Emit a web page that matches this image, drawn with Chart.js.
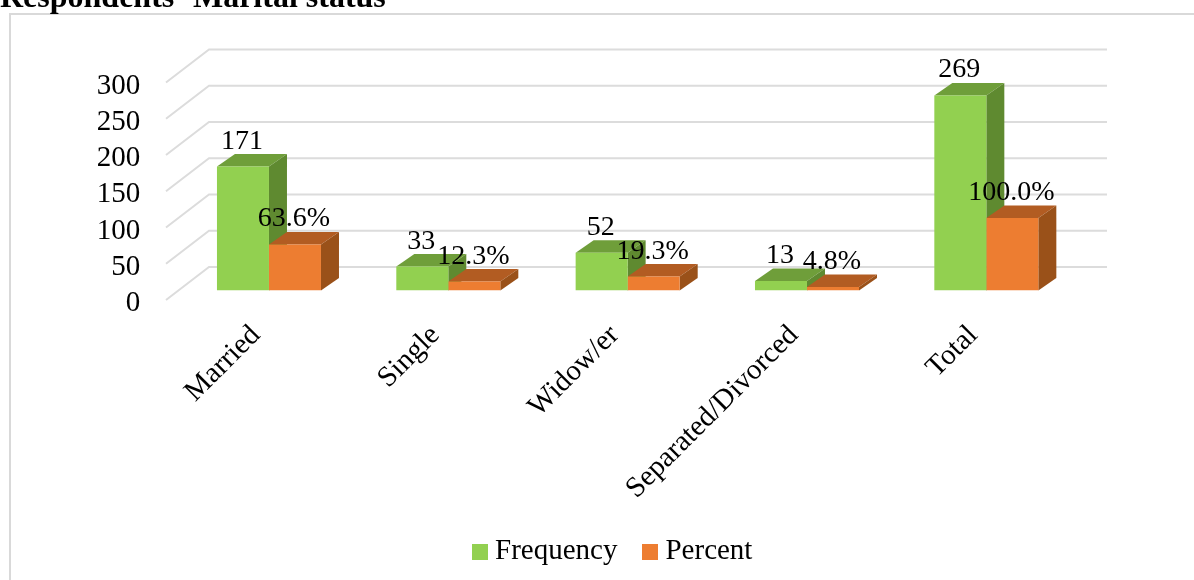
<!DOCTYPE html>
<html>
<head>
<meta charset="utf-8">
<style>
html,body{margin:0;padding:0;background:#fff;}
#wrap{position:relative;width:1194px;height:580px;overflow:hidden;}
canvas{display:block;}
</style>
<script src="https://cdn.jsdelivr.net/npm/chart.js@4"></script>
</head>
<body>
<div id="wrap"><canvas id="chart" width="1194" height="580"></canvas></div>
<script>
const categories = ['Married', 'Single', 'Widow/er', 'Separated/Divorced', 'Total'];
const frequency = [171, 33, 52, 13, 269];
const percent = [63.6, 12.3, 19.3, 4.8, 100.0];
const titleText = 'Respondents\u2019 Marital status';

const SERIF = '"Liberation Serif", "Times New Roman", serif';
const GRID = '#dcdcdc';
const GREEN = {front: '#92D050', top: '#6F9E3A', side: '#5F8A30'};
const ORANGE = {front: '#ED7D31', top: '#B25C22', side: '#9A5119'};
const BAR_DEPTH = {x: 18, y: -12.5};
const LEGEND_CENTER = 616;

function face(ctx, pts, color) {
  ctx.fillStyle = color;
  ctx.beginPath();
  pts.forEach((p, i) => i ? ctx.lineTo(p[0], p[1]) : ctx.moveTo(p[0], p[1]));
  ctx.closePath();
  ctx.fill();
}

// Small square used as the legend marker.
function swatch(color) {
  const c = document.createElement('canvas');
  c.width = 16;
  c.height = 16;
  const g = c.getContext('2d');
  g.fillStyle = color;
  g.fillRect(0, 0, 16, 16);
  return c;
}

// Outer frame, heading and the receding walls of the 3D plot box.
const backdrop = {
  id: 'backdrop',
  afterLayout(chart) {
    const lg = chart.legend;
    const shift = LEGEND_CENTER - (lg.left + lg.right) / 2;
    lg.left += shift;
    lg.right += shift;
  },
  beforeDraw(chart) {
    const {ctx, scales: {y}} = chart;
    ctx.save();
    ctx.strokeStyle = '#d9d9d9';
    ctx.lineWidth = 2;
    ctx.beginPath();
    ctx.moveTo(10, 580);
    ctx.lineTo(10, 14);
    ctx.lineTo(1194, 14);
    ctx.stroke();

    ctx.fillStyle = '#000';
    ctx.font = 'bold 32px ' + SERIF;
    ctx.textAlign = 'left';
    ctx.textBaseline = 'alphabetic';
    ctx.fillText(titleText, 0, 7);

    ctx.strokeStyle = GRID;
    ctx.lineWidth = 2;
    y.ticks.forEach(t => {
      const py = y.getPixelForValue(t.value);
      ctx.beginPath();
      ctx.moveTo(166, py + 9.5);
      ctx.lineTo(209, py - 23.5);
      ctx.lineTo(1107, py - 23.5);
      ctx.stroke();
    });
    ctx.restore();
  }
};

// Top and side faces of each bar, placed from the bar elements themselves.
const bar3d = {
  id: 'bar3d',
  beforeDatasetsDraw(chart) {
    const {ctx} = chart;
    const palette = [GREEN, ORANGE];
    const dx = BAR_DEPTH.x, dy = BAR_DEPTH.y;
    ctx.save();
    categories.forEach((_, i) => {
      palette.forEach((col, d) => {
        const el = chart.getDatasetMeta(d).data[i];
        const l = el.x - el.width / 2, r = el.x + el.width / 2, t = el.y, b = el.base;
        face(ctx, [[l, t], [r, t], [r + dx, t + dy], [l + dx, t + dy]], col.top);
        face(ctx, [[r, t], [r + dx, t + dy], [r + dx, b + dy], [r, b]], col.side);
      });
    });
    ctx.restore();
  }
};

// Value captions above every bar.
const valueLabels = {
  id: 'valueLabels',
  afterDatasetsDraw(chart) {
    const {ctx} = chart;
    ctx.save();
    ctx.fillStyle = '#000';
    ctx.font = '28px ' + SERIF;
    ctx.textAlign = 'center';
    ctx.textBaseline = 'alphabetic';
    chart.data.datasets.forEach((ds, d) => {
      chart.getDatasetMeta(d).data.forEach((el, i) => {
        const text = d === 0 ? String(ds.data[i]) : ds.data[i].toFixed(1) + '%';
        ctx.fillText(text, el.x - 1, el.y - 18);
      });
    });
    ctx.restore();
  }
};

new Chart(document.getElementById('chart'), {
  type: 'bar',
  data: {
    labels: categories,
    datasets: [
      {label: 'Frequency', data: frequency, backgroundColor: GREEN.front, categoryPercentage: 0.58, barPercentage: 1},
      {label: 'Percent', data: percent, backgroundColor: ORANGE.front, categoryPercentage: 0.58, barPercentage: 1}
    ]
  },
  plugins: [backdrop, bar3d, valueLabels],
  options: {
    responsive: false,
    animation: false,
    layout: {padding: {left: 32, right: 118, top: 73, bottom: 4}},
    plugins: {
      tooltip: {enabled: false},
      title: {display: false},
      legend: {
        display: true,
        position: 'bottom',
        labels: {
          color: '#000',
          font: {family: SERIF, size: 29},
          usePointStyle: true,
          pointStyleWidth: 1,
          boxHeight: 16,
          padding: 32.5,
          generateLabels(chart) {
            return chart.data.datasets.map((ds, i) => ({
              text: ds.label,
              fontColor: '#000',
              fillStyle: ds.backgroundColor,
              strokeStyle: ds.backgroundColor,
              lineWidth: 0,
              pointStyle: swatch(ds.backgroundColor),
              datasetIndex: i
            }));
          }
        }
      }
    },
    scales: {
      x: {
        grid: {display: false, drawTicks: false},
        border: {display: false},
        ticks: {
          color: '#000',
          font: {family: SERIF, size: 29},
          minRotation: 45,
          maxRotation: 45,
          padding: 28,
          labelOffset: -13,
          autoSkip: false
        },
        afterFit(scale) { scale.height = 214; }
      },
      y: {
        min: 0,
        max: 300,
        grid: {display: false, drawTicks: false},
        border: {display: false},
        ticks: {
          color: '#000',
          font: {family: SERIF, size: 29},
          stepSize: 50,
          autoSkip: false,
          padding: 39,
          labelOffset: 13
        },
        afterFit(scale) { scale.width = 147.3; }
      }
    }
  }
});
</script>
</body>
</html>
